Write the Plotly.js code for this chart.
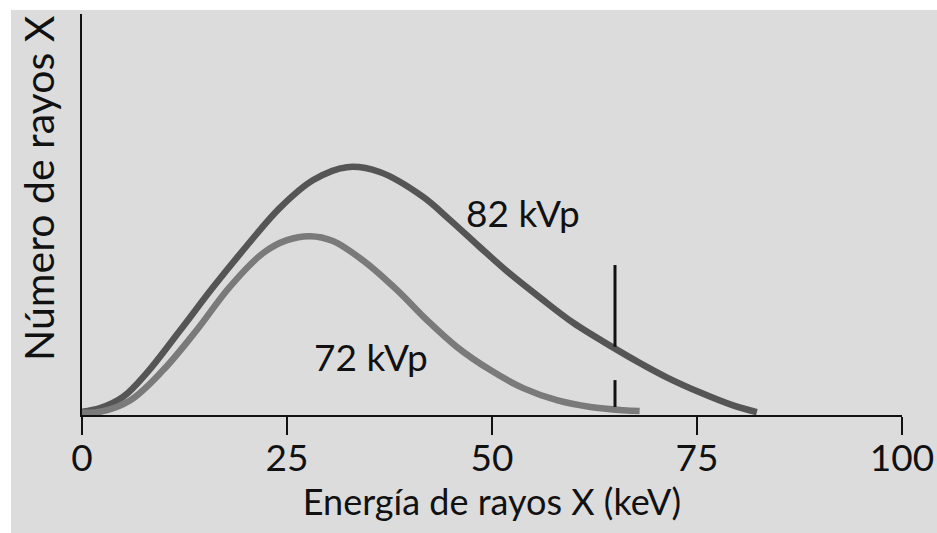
<!DOCTYPE html>
<html>
<head>
<meta charset="utf-8">
<script src="https://cdn.plot.ly/plotly-3.0.1.min.js"></script>
<style>
  html, body { margin: 0; padding: 0; background: #ffffff; width: 937px; height: 533px; overflow: hidden; }
  #chart { position: absolute; left: 11px; top: 10px; width: 926px; height: 523px; }
</style>
</head>
<body>
<div id="chart"></div>
<script>
// Energy (keV) and relative number of X-rays
const energy82 = [0, 2.2, 5.0, 7.9, 12.0, 16.0, 20.1, 24.1, 28.2, 32.3, 36.3, 41.6, 44.9, 48.5, 51.8, 55.9, 59.9, 64.8, 68.0, 71.3, 75.4, 79.4, 82.3];
const count82  = [0.8, 1.7, 4.5, 10.5, 21.2, 31.9, 42.2, 51.6, 58.6, 61.8, 60.6, 54.4, 48.6, 41.9, 35.9, 29.2, 23.0, 16.8, 13.0, 9.4, 5.6, 2.4, 0.7];

const energy72 = [0, 2.2, 5.9, 9.9, 14.0, 18.0, 22.1, 25.0, 27.8, 30.6, 34.3, 38.4, 42.1, 45.7, 49.8, 53.8, 57.9, 62.0, 66.0, 68.0];
const count72  = [0.6, 0.8, 3.7, 11.2, 21.2, 31.9, 40.4, 43.6, 44.6, 43.4, 38.5, 31.2, 23.6, 17.0, 11.2, 6.7, 3.7, 2.0, 1.2, 1.0];

// Vertical marker at 65 keV (two segments)
const markerX = [65, 65, null, 65, 65];
const markerY = [37.4, 17.0, null, 8.7, 2.0];

const tickVals = [0, 25, 50, 75, 100];
const tickText = ['0', '25', '50', '75', '100'];

const seriesLabels = ['82 kVp', '72 kVp'];
const labelX = [53.8, 35.2];
const labelY = [50.6, 14.5];

const FONT = 'Lato, "Noto Sans", sans-serif';

const traces = [
  { x: energy82, y: count82, type: 'scatter', mode: 'lines', line: { color: '#555555', width: 6.5, shape: 'spline', smoothing: 1 }, hoverinfo: 'skip' },
  { x: energy72, y: count72, type: 'scatter', mode: 'lines', line: { color: '#7a7a7a', width: 6.5, shape: 'spline', smoothing: 1 }, hoverinfo: 'skip' },
  { x: markerX, y: markerY, type: 'scatter', mode: 'lines', line: { color: '#111111', width: 3 }, connectgaps: false, hoverinfo: 'skip' }
];

const layout = {
  width: 926, height: 523,
  paper_bgcolor: '#dcdcdc',
  plot_bgcolor: '#dcdcdc',
  showlegend: false,
  margin: { l: 71, r: 35, t: 4, b: 118 },
  font: { family: FONT, color: '#111111' },
  xaxis: {
    range: [0, 100], showgrid: false, zeroline: false,
    showline: true, linecolor: '#111111', linewidth: 2,
    ticks: 'outside', ticklen: 18, tickwidth: 2, tickcolor: '#111111',
    tickvals: tickVals, ticktext: tickText,
    ticklabelstandoff: -8,
    tickfont: { family: FONT, size: 37, color: '#111111' },
    title: { text: 'Energía de rayos X (keV)', font: { family: FONT, size: 36, color: '#111111' }, standoff: 5 }
  },
  yaxis: {
    range: [0, 100], showgrid: false, zeroline: false,
    showline: true, linecolor: '#111111', linewidth: 2,
    ticks: '', showticklabels: false
  },
  annotations: [
    { text: seriesLabels[0], x: labelX[0], y: labelY[0], xref: 'x', yref: 'y', showarrow: false, font: { family: FONT, size: 37, color: '#111111' } },
    { text: seriesLabels[1], x: labelX[1], y: labelY[1], xref: 'x', yref: 'y', showarrow: false, font: { family: FONT, size: 37, color: '#111111' } },
    { text: 'Número de rayos X', textangle: -90, x: 0, y: 0, xref: 'paper', yref: 'paper', showarrow: false, font: { family: FONT, size: 41, color: '#111111' } }
  ]
};
// y-title position in pixels converted to paper coordinates
layout.annotations[2].x = (39 - 11 - 71) / (926 - 71 - 35);
layout.annotations[2].y = (415 - 188) / (415 - 14);
layout.annotations[2].xanchor = 'center';
layout.annotations[2].yanchor = 'middle';

Plotly.newPlot('chart', traces, layout, { displayModeBar: false, staticPlot: true });
</script>
</body>
</html>
